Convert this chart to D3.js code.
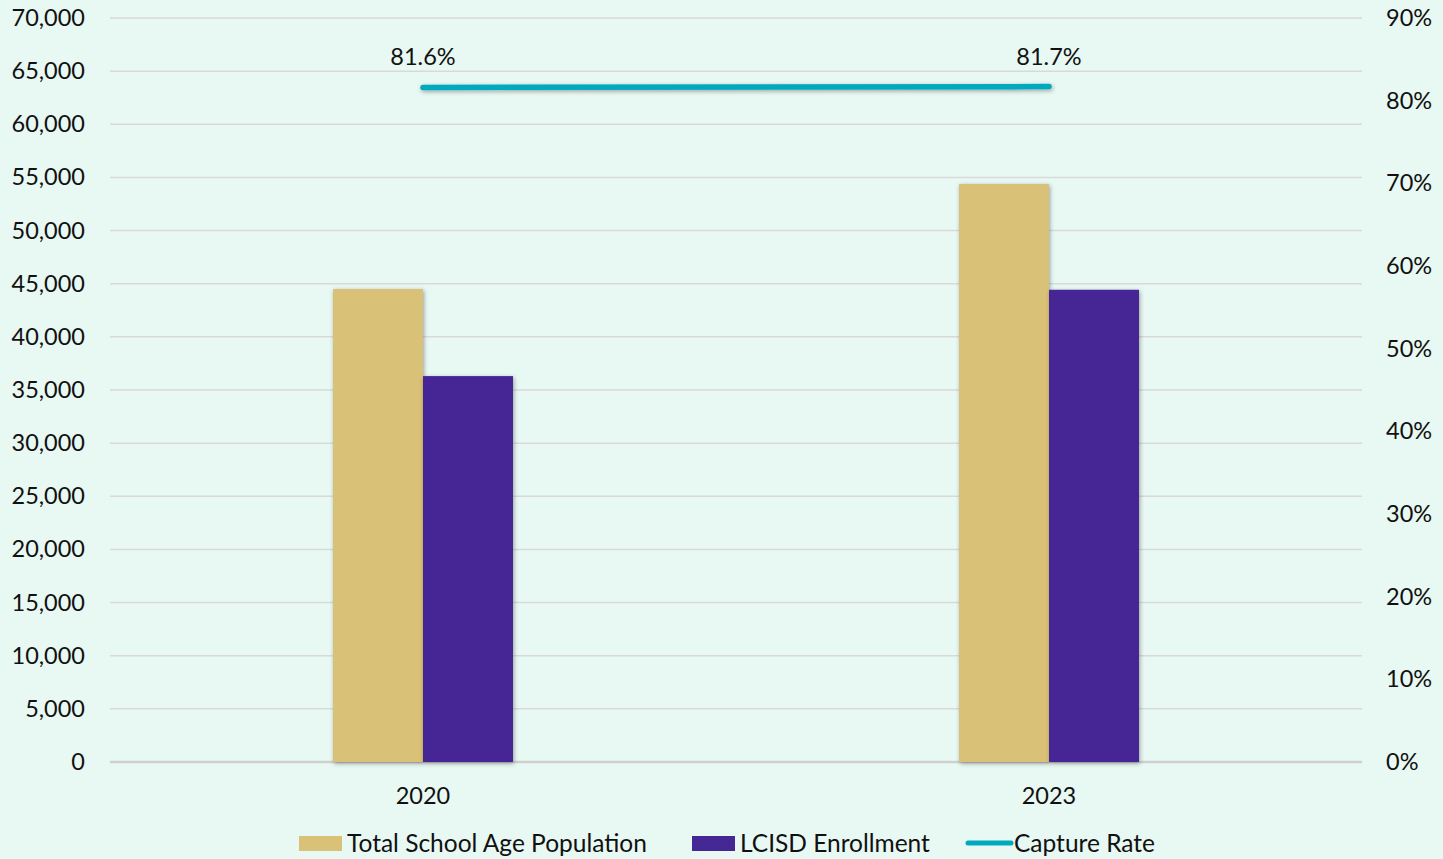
<!DOCTYPE html>
<html>
<head>
<meta charset="utf-8">
<script src="https://cdn.jsdelivr.net/npm/d3@7"></script>
<style>
  html, body { margin: 0; padding: 0; background: #e8f8f2; }
  text { font-family: Lato, "Open Sans", sans-serif; fill: #111; }
</style>
</head>
<body>
<script>
var width  = 1443;
var height = 859;

var years      = ['2020', '2023'];
var population = [44500, 54380];
var enrollment = [36310, 44430];
var capture    = [0.816, 0.817];
var captureLabels = ['81.6%', '81.7%'];
var leftTicks  = d3.range(0, 70001, 5000);
var rightTicks = d3.range(0, 0.91, 0.1);

var margin = { top: 18, right: 81, bottom: 97, left: 110 };
var plotW = width - margin.left - margin.right;
var plotH = height - margin.top - margin.bottom;

var svg = d3.select('body')
            .append('svg')
            .attr('width', width)
            .attr('height', height);

var defs = svg.append('defs');
defs.append('filter')
    .attr('id', 'shadow')
    .attr('filterUnits', 'userSpaceOnUse')
    .attr('x', -50).attr('y', -50)
    .attr('width', width + 100).attr('height', height + 100)
  .append('feDropShadow')
    .attr('dx', 1).attr('dy', 1.5)
    .attr('stdDeviation', 2)
    .attr('flood-color', '#000')
    .attr('flood-opacity', 0.35);

var g = svg.append('g')
           .attr('transform', 'translate(' + margin.left + ',' + margin.top + ')');

var x = d3.scaleBand().domain(years).range([0, plotW]);
var barW = 90;

var yLeft = d3.scaleLinear().domain([0, 70000]).range([plotH, 0]);
var yRight = d3.scaleLinear().domain([0, 0.9]).range([plotH, 0]);

// gridlines
g.selectAll('line.grid')
 .data(leftTicks)
 .enter()
 .append('line')
 .attr('class', 'grid')
 .attr('x1', 0).attr('x2', plotW)
 .attr('y1', function(d){ return yLeft(d); })
 .attr('y2', function(d){ return yLeft(d); })
 .attr('stroke', function(d){ return d === 0 ? '#d0d0d0' : '#d9d9d9'; })
 .attr('stroke-width', function(d){ return d === 0 ? 2.5 : 1.5; });

// left axis
var leftAxis = g.append('g')
  .call(d3.axisLeft(yLeft).tickValues(leftTicks).tickFormat(d3.format(',')).tickSize(0).tickPadding(25));
leftAxis.select('.domain').remove();
leftAxis.selectAll('text').style('font-size', '23.5px').attr('fill', '#111');

// right axis
var rightAxis = g.append('g')
  .attr('transform', 'translate(' + plotW + ',0)')
  .call(d3.axisRight(yRight).tickValues(rightTicks).tickFormat(d3.format('.0%')).tickSize(0).tickPadding(24));
rightAxis.select('.domain').remove();
rightAxis.selectAll('text').style('font-size', '23.5px').attr('fill', '#111');

// bottom axis labels
var bottomAxis = g.append('g')
  .attr('transform', 'translate(0,' + plotH + ')')
  .call(d3.axisBottom(x).tickSize(0).tickPadding(25));
bottomAxis.select('.domain').remove();
bottomAxis.selectAll('text').style('font-size', '23.5px').attr('fill', '#111');

// bars
g.selectAll('rect.pop')
 .data(population)
 .enter()
 .append('rect')
 .attr('class', 'pop')
 .attr('x', function(d, i){ return x(years[i]) + x.bandwidth() / 2 - barW; })
 .attr('y', function(d){ return yLeft(d); })
 .attr('width', barW)
 .attr('height', function(d){ return plotH - yLeft(d); })
 .attr('fill', '#d9c277')
 .attr('filter', 'url(#shadow)');

g.selectAll('rect.enr')
 .data(enrollment)
 .enter()
 .append('rect')
 .attr('class', 'enr')
 .attr('x', function(d, i){ return x(years[i]) + x.bandwidth() / 2; })
 .attr('y', function(d){ return yLeft(d); })
 .attr('width', barW)
 .attr('height', function(d){ return plotH - yLeft(d); })
 .attr('fill', '#452894')
 .attr('filter', 'url(#shadow)');

// capture rate line
var line = d3.line()
  .x(function(d, i){ return x(years[i]) + x.bandwidth() / 2; })
  .y(function(d){ return yRight(d); });

g.append('path')
 .datum(capture)
 .attr('d', line)
 .attr('fill', 'none')
 .attr('stroke', '#00a9bd')
 .attr('stroke-width', 5.5)
 .attr('stroke-linecap', 'round')
 .attr('filter', 'url(#shadow)');

g.selectAll('text.cap')
 .data(capture)
 .enter()
 .append('text')
 .attr('class', 'cap')
 .attr('x', function(d, i){ return x(years[i]) + x.bandwidth() / 2; })
 .attr('y', function(d){ return yRight(d) - 22; })
 .attr('text-anchor', 'middle')
 .style('font-size', '23.5px')
 .text(function(d, i){ return captureLabels[i]; });

// legend
var legend = svg.append('g').attr('transform', 'translate(0,843)');
var legendItems = [
  { label: 'Total School Age Population', color: '#d9c277', type: 'rect', x: 299 },
  { label: 'LCISD Enrollment',            color: '#452894', type: 'rect', x: 692 },
  { label: 'Capture Rate',                color: '#00a9bd', type: 'line', x: 966 }
];
legendItems.forEach(function(item){
  if (item.type === 'rect') {
    legend.append('rect')
      .attr('x', item.x).attr('y', -7)
      .attr('width', 43).attr('height', 15)
      .attr('fill', item.color);
  } else {
    legend.append('line')
      .attr('x1', item.x + 2).attr('x2', item.x + 45)
      .attr('y1', 0).attr('y2', 0)
      .attr('stroke', item.color)
      .attr('stroke-width', 5)
      .attr('stroke-linecap', 'round');
  }
  legend.append('text')
    .attr('x', item.x + 48)
    .attr('y', 8.5)
    .style('font-size', '24.5px')
    .text(item.label);
});
</script>
</body>
</html>
